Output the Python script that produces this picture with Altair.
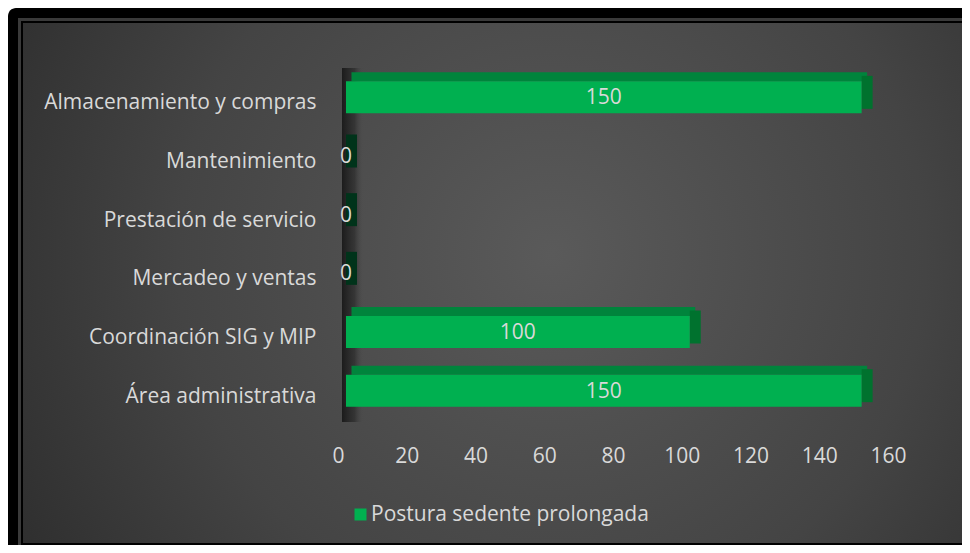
import altair as alt
import pandas as pd

# ---- data ----
categorias = [
    "Almacenamiento y compras",
    "Mantenimiento",
    "Prestación de servicio",
    "Mercadeo y ventas",
    "Coordinación SIG y MIP",
    "Área administrativa",
]
valores = [150, 0, 0, 0, 100, 150]
serie = "Postura sedente prolongada"
ticks_x = [0, 20, 40, 60, 80, 100, 120, 140, 160]

df = pd.DataFrame({"cat": categorias, "v": valores, "serie": [serie] * len(categorias)})
df["zero"] = 0
one = pd.DataFrame({"k": [0]})

# ---- layout (canvas 954 x 537) ----
CW, CH = 954, 537
L, T, W, H = 338, 60, 550, 352
R, B = CW - L - W, CH - T - H

FONT = "Open Sans"
TXT = "#d9d9d9"
FS = 21

def px(x):
    return alt.value(x - L)

def py(y):
    return alt.value(y - T)

# background frame
frame = alt.Chart(one).mark_rect(color="#000000", cornerRadius=8).encode(
    x=px(0), x2=px(CW + 10), y=py(0), y2=py(CH + 10)
)
border = alt.Chart(one).mark_rect(fill=None, stroke="#3a3a3a", strokeWidth=3).encode(
    x=px(11.5), x2=px(CW + 10), y=py(11.5), y2=py(CH + 10)
)
content = alt.Chart(one).mark_rect(
    color={
        "gradient": "radial",
        "x1": 0.56, "y1": 0.47, "r1": 0,
        "x2": 0.56, "y2": 0.47, "r2": 0.72,
        "stops": [
            {"offset": 0, "color": "#5a5a5a"},
            {"offset": 0.55, "color": "#444444"},
            {"offset": 1, "color": "#282828"},
        ],
    }
).encode(x=px(15), x2=px(CW + 5), y=py(15), y2=py(CH - 2))

wall = alt.Chart(one).mark_rect(
    color={
        "gradient": "linear",
        "x1": 0, "y1": 0, "x2": 1, "y2": 0,
        "stops": [
            {"offset": 0, "color": "rgba(22,22,22,0.9)"},
            {"offset": 0.6, "color": "rgba(40,40,40,0.65)"},
            {"offset": 1, "color": "rgba(70,70,70,0)"},
        ],
    }
).encode(x=alt.value(-4), x2=alt.value(17), y=alt.value(0), y2=alt.value(H + 2))

xscale = alt.Scale(domain=[0, 160], nice=False, zero=True)
yenc = alt.Y(
    "cat:N",
    sort=categorias,
    title=None,
    axis=alt.Axis(
        labelFont=FONT, labelFontSize=FS, labelColor=TXT, labelPadding=30,
        ticks=False, tickSize=0, domain=False, grid=False, labelOffset=6,
        labelLimit=400, zindex=1,
    ),
)
xenc = alt.X(
    "v:Q",
    scale=xscale,
    title=None,
    axis=alt.Axis(
        values=ticks_x, labelFont=FONT, labelFontSize=FS, labelColor=TXT,
        labelPadding=25, labelOffset=-8, ticks=False, tickSize=0, domain=False,
        grid=False, labelFlush=False, labelOverlap=False, zindex=1,
    ),
)

base = alt.Chart(df)

top_face = base.mark_bar(size=9, yOffset=-20.5, xOffset=5.5, x2Offset=5.5, color="#00843c").encode(
    x=alt.X("zero:Q", scale=xscale), x2="v:Q", y=yenc
)
side_face = base.mark_bar(size=33, yOffset=-5, x2Offset=11).encode(
    x=alt.X("v:Q", scale=xscale),
    x2="v:Q",
    y=yenc,
    color=alt.condition("datum.v == 0", alt.value("#00331a"), alt.value("#00722e")),
)
front = base.mark_bar(size=32).encode(
    x=xenc,
    y=yenc,
    color=alt.Color(
        "serie:N",
        scale=alt.Scale(range=["#00b050"]),
        legend=alt.Legend(
            orient="none", legendX=4, legendY=436, title=None, padding=0,
            symbolType="square", symbolSize=144, symbolStrokeWidth=0,
            labelFont=FONT, labelFontSize=FS, labelColor=TXT, labelOffset=0,
            labelLimit=400,
        ),
    ),
)
labels = base.transform_calculate(mid="datum.v / 2").mark_text(
    font=FONT, fontSize=FS, color=TXT, baseline="middle", align="center", dy=1
).encode(
    x=alt.X("mid:Q", scale=xscale), y=yenc, text="v:Q"
)

chart = (
    alt.layer(frame, border, content, wall, top_face, side_face, front, labels)
    .properties(
        width=W, height=H,
        padding={"left": L, "top": T, "right": R, "bottom": B},
        autosize=alt.AutoSizeParams(type="none"),
    )
    .configure_view(strokeWidth=0)
    .configure(background="white")
)

chart.save("out.html", embed_options={"renderer": "svg", "actions": False})
